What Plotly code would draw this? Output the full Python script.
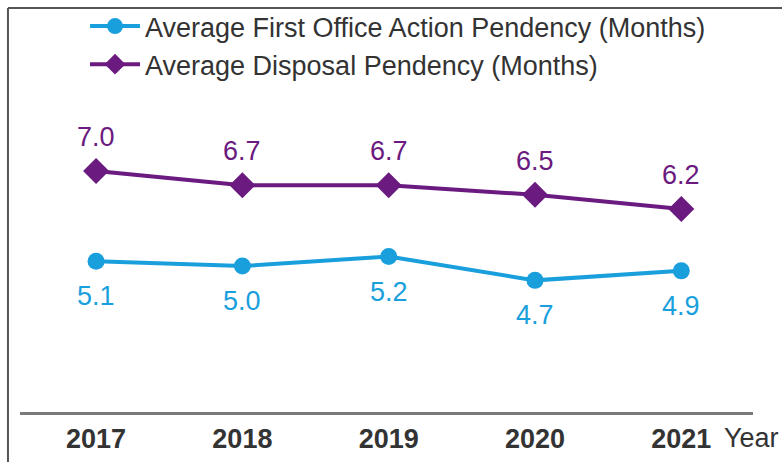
import plotly.graph_objects as go

years = ["2017", "2018", "2019", "2020", "2021"]
first_action = [5.1, 5.0, 5.2, 4.7, 4.9]
disposal = [7.0, 6.7, 6.7, 6.5, 6.2]
first_action_labels = ["5.1", "5.0", "5.2", "4.7", "4.9"]
disposal_labels = ["7.0", "6.7", "6.7", "6.5", "6.2"]

blue = "#1a9fdd"
purple = "#6b1a80"
font = "Liberation Sans, Arial, sans-serif"

fig = go.Figure()
fig.add_trace(go.Scatter(x=years, y=first_action, mode="lines+markers",
                         name="Average First Office Action Pendency (Months)",
                         line=dict(color=blue, width=4),
                         marker=dict(symbol="circle", size=17, color=blue)))
fig.add_trace(go.Scatter(x=years, y=disposal, mode="lines+markers",
                         name="Average Disposal Pendency (Months)",
                         line=dict(color=purple, width=4),
                         marker=dict(symbol="diamond", size=20, color=purple)))

# value labels (x given as category index)
for i, (y, t) in enumerate(zip(disposal, disposal_labels)):
    fig.add_annotation(x=i, y=y, text=t, showarrow=False, yshift=34,
                       font=dict(size=27, color=purple, family=font))
for i, (y, t) in enumerate(zip(first_action, first_action_labels)):
    fig.add_annotation(x=i, y=y, text=t, showarrow=False, yshift=-35,
                       font=dict(size=27, color=blue, family=font))

fig.add_annotation(xref="paper", yref="paper", x=1, y=0, yshift=-26, xshift=-31,
                   xanchor="left", yanchor="middle", text="Year", showarrow=False,
                   font=dict(size=27, color="#333333", family=font))

# frame lines (top and left edge of the picture)
fig.add_shape(type="line", xref="paper", yref="paper", x0=-0.0164, x1=1.05, y0=0.9806, y1=0.9806,
              line=dict(color="#555555", width=2))
fig.add_shape(type="line", xref="paper", yref="paper", x0=-0.0164, x1=-0.0164, y0=-0.2, y1=0.9806,
              line=dict(color="#555555", width=2))

fig.update_layout(
    width=782, height=462,
    margin=dict(l=20, r=29, t=0, b=50),
    paper_bgcolor="white", plot_bgcolor="white",
    font=dict(family=font, color="#333333"),
    showlegend=True,
    legend=dict(x=0.0887, y=0.995, xanchor="left", yanchor="top",
                font=dict(size=27, color="#333333", family=font),
                itemwidth=50, bgcolor="rgba(0,0,0,0)", tracegroupgap=0),
    xaxis=dict(type="category", range=[-0.52, 4.49], showgrid=False, zeroline=False,
               showline=True, linecolor="#7a7a7a", linewidth=3, automargin=False,
               ticks="outside", ticklen=1, tickcolor="rgba(0,0,0,0)",
               tickfont=dict(size=27, color="#333333", family=font),
               tickvals=years, ticktext=["<b>" + y + "</b>" for y in years]),
    yaxis=dict(range=[1.93, 10.60], showgrid=False, zeroline=False, showline=False,
               showticklabels=False, automargin=False),
)

# page body has an 8px default margin; drop it so the figure fills the window
fig.write_html("out.html", config={"displayModeBar": False},
               post_script="document.body.style.margin='0';")
